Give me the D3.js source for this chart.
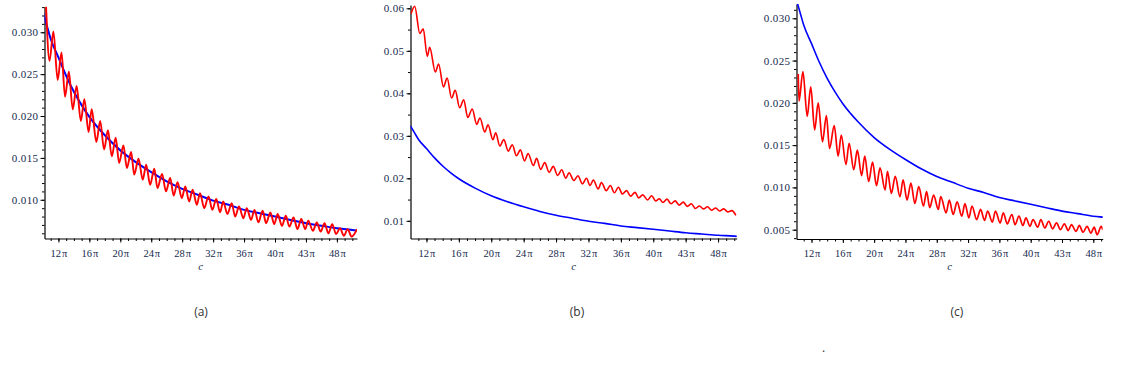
<!DOCTYPE html>
<html lang="en">
<head>
  <meta charset="UTF-8">
  <title>Three panels</title>
  <script src="https://d3js.org/d3.v7.min.js"></script>
  <style>
    body { margin: 0; background: #fff; }
    svg { display: block; }
    .tick text { font-family: "Liberation Serif", "DejaVu Serif", serif; fill: #15294d; }
    .ylab text { font-size: 11px; letter-spacing: 0.4px; }
    .xlab text { font-size: 10.5px; }
    .domain, .tick line { stroke: #000; }
    .caption { font-family: "Open Sans", "Liberation Sans", sans-serif; font-size: 12px; fill: #333; }
  </style>
</head>
<body>
<svg id="chart" width="1139" height="365"></svg>
<script>
// x is c in units of pi
const xTicks = [12, 16, 20, 24, 28, 32, 36, 40, 44, 48];
const xLabels = ["12\u200aπ", "16\u200aπ", "20\u200aπ", "24\u200aπ", "28\u200aπ", "32\u200aπ", "36\u200aπ", "40\u200aπ", "43\u200aπ", "48\u200aπ"];

const yTicksA = [0.010, 0.015, 0.020, 0.025, 0.030];
const yLabelsA = ["0.010", "0.015", "0.020", "0.025", "0.030"];
const yTicksB = [0.01, 0.02, 0.03, 0.04, 0.05, 0.06];
const yLabelsB = ["0.01", "0.02", "0.03", "0.04", "0.05", "0.06"];
const yTicksC = [0.005, 0.010, 0.015, 0.020, 0.025, 0.030];
const yLabelsC = ["0.005", "0.010", "0.015", "0.020", "0.025", "0.030"];

// blue reference curve (same in all panels)
const blueC = [10, 10.5, 11, 12, 13, 14, 15, 16, 18, 20, 22, 24, 26, 28, 30, 32, 34, 36, 38, 40, 42, 44, 46, 48, 50, 50.6];
const blueV = [0.0324, 0.0308, 0.0292, 0.0270, 0.0248, 0.0229, 0.0213, 0.0199, 0.0177, 0.0159, 0.0145, 0.0133, 0.0122,
  0.0113, 0.0106, 0.0099, 0.0094, 0.0088, 0.0084, 0.0080, 0.0076, 0.0072, 0.0069, 0.0066, 0.0064, 0.0063];

// red curves, [c, value]
const redA = [[10.4,0.0331],[10.85,0.0266],[11.35,0.0301],[11.9,0.0243],[12.4,0.0276],[12.85,0.0223],[13.35,0.0253],
  [13.85,0.0208],[14.35,0.0236],[14.9,0.0194],[15.35,0.0220],[15.9,0.0181],[16.3,0.0208],[16.9,0.0169],[17.4,0.0194],
  [17.9,0.0160],[18.4,0.0183],[18.9,0.0152],[19.4,0.0174],[19.85,0.0144],[20.4,0.0165],[20.85,0.0138],[21.4,0.0157],
  [21.8,0.0130],[22.35,0.0149],[22.9,0.0124],[23.35,0.0142],[23.85,0.0118],[24.4,0.0137],[24.8,0.0114],[25.4,0.0131],
  [25.9,0.0110],[26.45,0.0126],[26.9,0.0105],[27.4,0.0121],[27.95,0.0102],[28.4,0.0116],[28.9,0.0098],[29.35,0.0112],
  [29.9,0.0094],[30.3,0.0108],[30.85,0.0090],[31.4,0.0104],[31.9,0.0088],[32.4,0.0101],[32.9,0.0085],[33.3,0.0098],
  [33.85,0.0083],[34.4,0.0096],[34.85,0.0080],[35.35,0.0092],[35.9,0.0078],[36.35,0.0090],[36.9,0.0076],[37.35,0.0088],
  [37.85,0.0073],[38.4,0.0087],[38.85,0.0072],[39.4,0.0085],[39.9,0.0071],[40.35,0.0083],[40.9,0.0069],[41.4,0.0081],
  [41.85,0.0068],[42.4,0.0079],[42.9,0.0065],[43.4,0.0077],[43.9,0.0065],[44.3,0.0075],[44.9,0.0063],[45.4,0.0073],
  [45.9,0.0062],[46.4,0.0072],[46.9,0.0060],[47.4,0.0071],[47.9,0.0059],[48.4,0.0066],[48.9,0.0057],[49.4,0.0065],
  [49.9,0.0056],[50.6,0.0065]];

const redB = [[10.1,0.0587],[10.55,0.0605],[11.18,0.0541],[11.6,0.0552],[12.1,0.0487],[12.4,0.0508],[13.1,0.0450],
  [13.5,0.0469],[14.1,0.0415],[14.55,0.0436],[15.1,0.0389],[15.55,0.0407],[16.1,0.0366],[16.6,0.0385],[17.1,0.0343],
  [17.65,0.0363],[18.2,0.0327],[18.6,0.0342],[19.2,0.0309],[19.6,0.0326],[20.2,0.0291],[20.55,0.0307],[21.05,0.0276],
  [21.55,0.0291],[22.1,0.0264],[22.6,0.0279],[23.1,0.0253],[23.6,0.0267],[24.1,0.0241],[24.55,0.0258],[25.2,0.0230],
  [25.6,0.0247],[26.1,0.0221],[26.6,0.0237],[27.15,0.0214],[27.65,0.0228],[28.2,0.0207],[28.7,0.0220],[29.2,0.0200],
  [29.6,0.0213],[30.2,0.0195],[30.7,0.0206],[31.25,0.0187],[31.75,0.0200],[32.2,0.0183],[32.6,0.0196],[33.2,0.0175],
  [33.6,0.0190],[34.2,0.0171],[34.7,0.0183],[35.2,0.0166],[35.7,0.0179],[36.2,0.0163],[36.7,0.0171],[37.2,0.0158],
  [37.75,0.0167],[38.2,0.0154],[38.7,0.0161],[39.3,0.0149],[39.8,0.0159],[40.3,0.0147],[40.75,0.0152],[41.2,0.0143],
  [41.7,0.0151],[42.2,0.0140],[42.7,0.0147],[43.2,0.0137],[43.7,0.0144],[44.2,0.0134],[44.7,0.0140],[45.2,0.0129],
  [45.7,0.0135],[46.2,0.0128],[46.7,0.0133],[47.2,0.0125],[47.7,0.0130],[48.2,0.0123],[48.7,0.0128],[49.2,0.0121],
  [49.7,0.0124],[50.2,0.0113]];

const redC = [[10.3,0.0234],[10.4,0.0202],[10.9,0.0237],[11.45,0.0184],[11.9,0.0219],[12.4,0.0168],[12.85,0.0200],
  [13.4,0.0154],[13.9,0.0185],[14.3,0.0146],[14.9,0.0173],[15.4,0.0137],[15.8,0.0162],[16.4,0.0127],[16.8,0.0152],
  [17.4,0.0121],[17.85,0.0144],[18.4,0.0114],[18.8,0.0137],[19.3,0.0107],[19.8,0.0130],[20.3,0.0102],[20.75,0.0123],
  [21.4,0.0097],[21.7,0.0119],[22.2,0.0093],[22.7,0.0113],[23.3,0.0089],[23.7,0.0109],[24.2,0.0085],[24.7,0.0105],
  [25.2,0.0081],[25.7,0.0101],[26.3,0.0078],[26.7,0.0095],[27.1,0.0076],[27.6,0.0091],[28.2,0.0074],[28.5,0.0089],
  [29.2,0.0070],[29.6,0.0085],[30.1,0.0068],[30.6,0.0083],[31.2,0.0066],[31.6,0.0081],[32.1,0.0064],[32.5,0.0078],
  [33.1,0.0062],[33.6,0.0074],[34.1,0.0061],[34.5,0.0072],[35.1,0.0059],[35.5,0.0072],[36.1,0.0058],[36.5,0.0070],
  [37.0,0.0057],[37.6,0.0068],[38.0,0.0056],[38.5,0.0066],[39.0,0.0055],[39.4,0.0064],[39.9,0.0054],[40.3,0.0062],
  [40.9,0.0053],[41.3,0.0062],[41.8,0.0052],[42.3,0.0060],[42.8,0.0051],[43.3,0.0058],[43.8,0.0050],[44.3,0.0057],
  [44.8,0.0049],[45.2,0.0056],[45.8,0.0048],[46.2,0.0055],[46.7,0.0047],[47.2,0.0054],[47.7,0.0046],[48.1,0.0053],
  [48.5,0.0044],[49.0,0.0054],[49.2,0.0050]];

const captions = ["(a)", "(b)", "(c)"];

const svg = d3.select("#chart");

const panels = [
  { left: 44.5, right: 357, top: 6.7, bottom: 238.5, xDom: [10.2, 50.6], yDom: [0.00538, 0.03305],
    yTicks: yTicksA, yLabels: yLabelsA, minorY: 0.001, red: redA, curve: d3.curveMonotoneX, redW: 1.9, blueW: 2, capX: 201 },
  { left: 410.5, right: 736.7, top: 5, bottom: 238.5, xDom: [10.03, 50.3], yDom: [0.00584, 0.06078],
    yTicks: yTicksB, yLabels: yLabelsB, minorY: 0.005, red: redB, curve: d3.curveMonotoneX, redW: 1.6, blueW: 1.6, capX: 577 },
  { left: 796.5, right: 1102.7, top: 4, bottom: 239, xDom: [10.08, 49.2], yDom: [0.0039, 0.03169],
    yTicks: yTicksC, yLabels: yLabelsC, minorY: 0.001, red: redC, curve: d3.curveMonotoneX, redW: 1.7, blueW: 1.6, capX: 957 }
];

const blue = blueC.map((c, i) => [c, blueV[i]]);

panels.forEach((p, k) => {
  const x = d3.scaleLinear().domain(p.xDom).range([p.left, p.right]);
  const y = d3.scaleLinear().domain(p.yDom).range([p.bottom, p.top]);
  const g = svg.append("g");

  const clipId = "clip" + k;
  g.append("clipPath").attr("id", clipId).append("rect")
    .attr("x", p.left).attr("y", p.top).attr("width", p.right - p.left).attr("height", p.bottom - p.top);

  // minor ticks
  const minorX = d3.range(Math.ceil(p.xDom[0]), p.xDom[1] + 1e-9, 1);
  g.append("g").attr("transform", `translate(0,${p.bottom})`)
    .call(d3.axisBottom(x).tickValues(minorX).tickSize(2.5).tickFormat("").tickSizeOuter(0))
    .call(s => s.select(".domain").remove());
  const minorYv = d3.range(Math.ceil(p.yDom[0] / p.minorY) * p.minorY, p.yDom[1], p.minorY);
  g.append("g").attr("transform", `translate(${p.left},0)`)
    .call(d3.axisLeft(y).tickValues(minorYv).tickSize(2.5).tickFormat("").tickSizeOuter(0))
    .call(s => s.select(".domain").remove());

  // major axes
  g.append("g").attr("class", "xlab").attr("transform", `translate(0,${p.bottom})`)
    .call(d3.axisBottom(x).tickValues(xTicks).tickSize(4).tickPadding(7)
      .tickFormat((d, i) => xLabels[i]).tickSizeOuter(0));
  g.append("g").attr("class", "ylab").attr("transform", `translate(${p.left},0)`)
    .call(d3.axisLeft(y).tickValues(p.yTicks).tickSize(4).tickPadding(2)
      .tickFormat((d, i) => p.yLabels[i]).tickSizeOuter(0));

  g.selectAll(".domain").attr("stroke-width", 1.2);

  const line = d3.line().x(d => x(d[0])).y(d => y(d[1]));

  const plot = g.append("g").attr("clip-path", `url(#${clipId})`);
  plot.append("path").datum(blue)
    .attr("fill", "none").attr("stroke", "#0000ff").attr("stroke-width", p.blueW)
    .attr("d", line.curve(d3.curveMonotoneX));
  plot.append("path").datum(p.red)
    .attr("fill", "none").attr("stroke", "#ff0000").attr("stroke-width", p.redW)
    .attr("d", line.curve(p.curve));

  g.append("text")
    .attr("x", (p.left + p.right) / 2).attr("y", 270)
    .attr("text-anchor", "middle")
    .style("font-family", "Liberation Serif, serif").style("font-style", "italic")
    .style("font-size", "11px").style("fill", "#15294d")
    .text("c");

  svg.append("text").attr("class", "caption")
    .attr("x", p.capX).attr("y", 316).attr("text-anchor", "middle")
    .text(captions[k]);
});

svg.append("text").attr("class", "caption").attr("x", 822).attr("y", 352).text(".");
</script>
</body>
</html>
